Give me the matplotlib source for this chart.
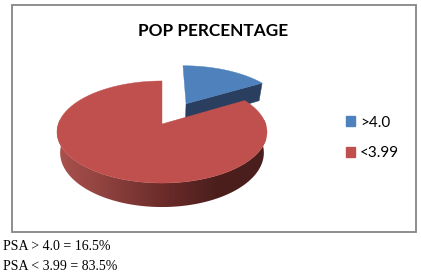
import numpy as np
import matplotlib
matplotlib.use("Agg")
import matplotlib.pyplot as plt
from matplotlib.colors import LinearSegmentedColormap
from matplotlib.patches import Patch, Polygon, Rectangle

# values
labels = ['>4.0', '<3.99']
shares = [16.5, 83.5]
title = 'POP PERCENTAGE'
notes = ['PSA > 4.0 = 16.5%', 'PSA < 3.99 = 83.5%']

# colours
blue = '#4f81bd'
blue_side = '#2a3f5f'
red = '#c0504d'
frame = '#868686'
rim_colors = [(0.0, '#ab524f'), (0.27, '#8a3f3c'), (0.52, '#6a2b29'), (0.76, '#4c1f1d'), (1.0, '#4a1e1c')]

# look of the 3d pie, in pixels
cx, cy = 162, 124
persp = -0.157
rx, ry = 103.7, 30.3
depth = 24
explode = 0.5
bottom_scale = 0.97


def project(x, t):
    # disc coords to the tilted pie on screen
    d = 1 + persp * t
    return cx + rx * x / d, (ry * t + cy) / d


def top_edge(a0, a1, dx=0.0, dt=0.0):
    ang = np.radians(np.linspace(a0, a1, 200))
    return project(np.sin(ang) + dx, -np.cos(ang) + dt)


def drop(x, y, t):
    # same point on the lower face
    d = 1 + persp * t
    return cx + (x - cx) * bottom_scale, y + depth * (1 + persp) / d


fig = plt.figure(figsize=(4.21, 2.75), dpi=100)
ax = fig.add_axes([0, 0, 1, 1])
ax.axis('off')

ax.add_patch(Rectangle((11.5, 4.5), 404.5, 227, fc='white', ec=frame, lw=1.3))

# angles of the slices, clockwise from 12 o'clock
ends = np.cumsum(shares) / np.sum(shares) * 360
blue_end = ends[0]

# blue slice, pushed out along its middle
mid = np.radians(blue_end / 2)
ox, ot = explode * np.sin(mid), -explode * np.cos(mid)
bx, by = top_edge(0, blue_end, ox, ot)
ax0, ay0 = project(ox, ot)
xe, te = np.sin(np.radians(blue_end)) + ox, -np.cos(np.radians(blue_end)) + ot
ex, ey = project(xe, te)
ex2, ey2 = drop(ex, ey, te)
ax2, ay2 = drop(ax0, ay0, ot)
ax.add_patch(Polygon([(ax0, ay0), (ex, ey), (ex2, ey2), (ax2, ay2)], fc=blue_side, ec=blue_side, lw=0.3))
ax.add_patch(Polygon(np.r_[[(ax0, ay0)], np.c_[bx, by]], fc=blue, ec=blue, lw=0.3))

# red rim, only the part that faces the viewer, shaded left to right
ang = np.linspace(85, 275, 160)
rim_top_x, rim_top_y = project(np.sin(np.radians(ang)), -np.cos(np.radians(ang)))
rim_bot_x, rim_bot_y = drop(rim_top_x, rim_top_y, -np.cos(np.radians(ang)))
rim = Polygon(np.r_[np.c_[rim_top_x, rim_top_y], np.c_[rim_bot_x, rim_bot_y][::-1]], fc='none', ec='none')
ax.add_patch(rim)
cmap = LinearSegmentedColormap.from_list('rim', rim_colors)
grad = ax.imshow(np.linspace(0, 1, 256)[None, :], cmap=cmap, aspect='auto', extent=(56, 266, 215, 120), zorder=1)
grad.set_clip_path(rim)

# red top
rx_top, ry_top = top_edge(blue_end, 360)
ax.add_patch(Polygon(np.r_[[project(0, 0)], np.c_[rx_top, ry_top]], fc=red, ec=red, lw=0.3, zorder=2))

ax.set_xlim(0, 421)
ax.set_ylim(275, 0)

ax.text(213, 31, title, family='Lato', weight='bold', fontsize=12.4, color='black', ha='center', va='center')

handles = [Patch(fc=blue, ec=blue), Patch(fc=red, ec=red)]
ax.legend(handles, labels, loc='center left', bbox_to_anchor=(346, 138), bbox_transform=ax.transData,
          frameon=False, prop={'family': 'Lato', 'size': 11}, handlelength=0.59, handleheight=0.59,
          handletextpad=0.34, labelspacing=1.11, borderpad=0, borderaxespad=0)

ax.text(3, 250.5, notes[0], family='Liberation Serif', fontsize=10, color='black', va='baseline')
ax.text(3, 270.5, notes[1], family='Liberation Serif', fontsize=10, color='black', va='baseline')

fig.savefig('out.png', dpi=100)
